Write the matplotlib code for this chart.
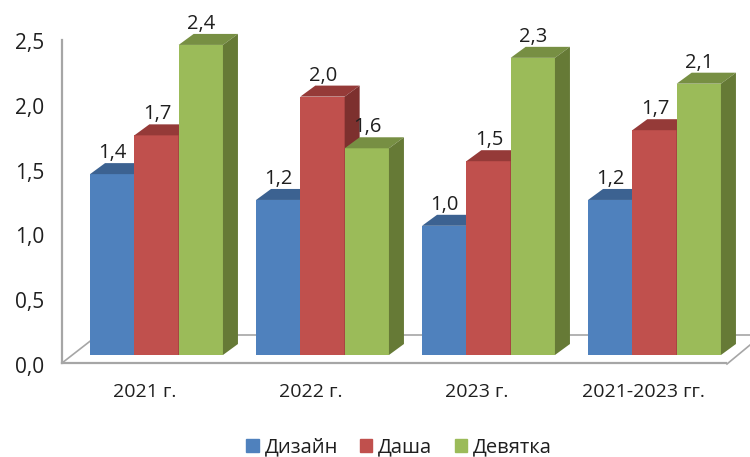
import numpy as np
import matplotlib
matplotlib.use("Agg")
import matplotlib.pyplot as plt
import matplotlib.patches as mpatches
import matplotlib.transforms as mtrans

categories = ["2021 г.", "2022 г.", "2023 г.", "2021-2023 гг."]
series_names = ["Дизайн", "Даша", "Девятка"]
dizain = [1.4, 1.2, 1.0, 1.2]
dasha = [1.7, 2.0, 1.5, 1.74]
devyatka = [2.4, 1.6, 2.3, 2.1]
y_ticks = [0.0, 0.5, 1.0, 1.5, 2.0, 2.5]

W, H = 750, 457
AXIS_C = "#a6a6a6"
TEXT = "#1f1f1f"
# front, top, side
COLORS = [
    ("#4f81bd", "#3c6291", "#2f4d72"),
    ("#c0504d", "#953a38", "#7d302e"),
    ("#9bbb59", "#778f43", "#667a36"),
]

plt.rcParams["font.family"] = ["Open Sans", "DejaVu Sans"]
fig = plt.figure(figsize=(W / 100, H / 100), dpi=100)


def px(x, y):
    # pixel from top-left -> figure fraction
    return x / W, 1 - y / H


left, bottom = px(62, 363)
ax = fig.add_axes([left, bottom, 664 / W, 323 / H])
ax.set_xlim(-0.5, 3.5)
ax.set_ylim(0, 2.5)
for name in ("top", "right"):
    ax.spines[name].set_visible(False)
for name in ("left", "bottom"):
    ax.spines[name].set_color(AXIS_C)
    ax.spines[name].set_linewidth(1.6)
ax.patch.set_alpha(0)

ax.set_xticks(range(len(categories)))
ax.set_xticklabels(categories, fontsize=14, color=TEXT)
ax.set_yticks(y_ticks)
ax.set_yticklabels([f"{t:.1f}".replace(".", ",") for t in y_ticks], fontsize=15, color=TEXT)
ax.tick_params(length=0)
ax.tick_params(axis="x", pad=14.5)
ax.tick_params(axis="y", pad=13)
# tick labels sit slightly lower than the gridline positions
nudge = mtrans.ScaledTranslation(0, -1.5 / 100, fig.dpi_scale_trans)
for lab in ax.get_yticklabels():
    lab.set_transform(lab.get_transform() + nudge)

# floor of the 3d box
floor = [[(62, 363), (98, 335), (750, 335)], [(727, 364), (750, 345)]]
for pts in floor:
    xs, ys = zip(*[px(*p) for p in pts])
    fig.add_artist(plt.Line2D(xs, ys, color=AXIS_C, lw=1.2, zorder=0))

# bars sit a bit in front of the axes box
shift = mtrans.ScaledTranslation(11.5 / 100, 8 / 100, fig.dpi_scale_trans)
bar_tr = ax.transData + shift

bar_w = 44.3 / 166
dx = 15 / 166
dy = 11 / 129.2

for s, vals in enumerate([dizain, dasha, devyatka]):
    front, top, side = COLORS[s]
    xpos = np.arange(len(categories)) + (s - 1) * bar_w
    ax.bar(xpos, vals, bar_w, color=front, transform=bar_tr, clip_on=False,
           zorder=3 + s, label=series_names[s])
    for x, v in zip(xpos, vals):
        x0, x1 = x - bar_w / 2, x + bar_w / 2
        ax.add_patch(mpatches.Polygon([(x0, v), (x1, v), (x1 + dx, v + dy), (x0 + dx, v + dy)],
                                      color=top, lw=0, transform=bar_tr, clip_on=False, zorder=3 + s))
        ax.add_patch(mpatches.Polygon([(x1, 0), (x1 + dx, dy), (x1 + dx, v + dy), (x1, v)],
                                      color=side, lw=0, transform=bar_tr, clip_on=False, zorder=3 + s))
        label_tr = bar_tr + mtrans.ScaledTranslation(0.5 / 100, 21 / 100, fig.dpi_scale_trans)
        ax.text(x, v, f"{v:.1f}".replace(".", ","), ha="center", va="center",
                fontsize=14.5, color=TEXT, transform=label_tr, zorder=10, clip_on=False)

ax.set_xlim(-0.5, 3.5)
ax.set_ylim(0, 2.5)

handles = [mpatches.Patch(color=c[0], label=n) for c, n in zip(COLORS, series_names)]
fig.legend(handles=handles, loc="center", bbox_to_anchor=px(399, 447.5), ncol=3, frameon=False,
           fontsize=14.5, labelcolor=TEXT, handlelength=0.6, handleheight=0.6,
           handletextpad=0.3, columnspacing=1.1, borderpad=0)

fig.savefig("out.png", dpi=100, facecolor="white")
